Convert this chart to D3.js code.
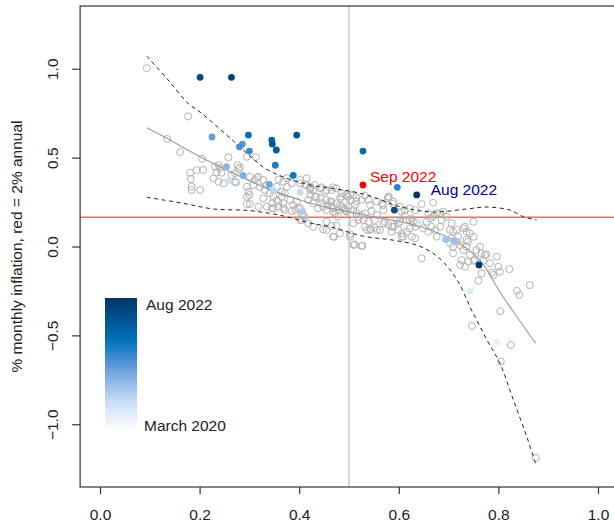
<!DOCTYPE html>
<html>
<head>
<meta charset="utf-8">
<script src="https://cdn.jsdelivr.net/npm/d3@7"></script>
<style>
  body { margin: 0; background: #fff; }
  text { font-family: "Liberation Sans", Arial, sans-serif; }
</style>
</head>
<body>
<div id="chart"></div>
<script>
// ---- data ----
const xTicks = [0, 0.2, 0.4, 0.6, 0.8, 1.0];
const yTicks = [-1.0, -0.5, 0.0, 0.5, 1.0];
const redLevel = 0.165;   // 2% annual in monthly terms
const splitX = 0.5;

// older months (hollow grey circles)
const pastPoints = [
  [.094,1.003],[.177,.732],[.135,.605],[.161,.531],[.205,.494],[.258,.502],[.181,.415],[.194,.429],[.182,.380],[.207,.430],
  [.184,.318],[.201,.318],[.184,.337],[.231,.449],[.241,.440],[.234,.415],[.244,.415],[.228,.384],[.238,.364],[.248,.355],
  [.238,.458],[.264,.402],[.271,.412],[.278,.436],[.276,.458],[.271,.364],[.295,.505],[.313,.503],[.301,.393],[.311,.374],
  [.308,.346],[.295,.336],[.298,.308],[.295,.280],[.300,.290],[.295,.239],[.301,.239],[.318,.224],[.335,.224],[.348,.215],
  [.328,.374],[.335,.346],[.331,.318],[.341,.299],[.328,.271],[.318,.393],[.321,.333],[.355,.336],[.365,.308],[.371,.299],
  [.375,.336],[.385,.355],[.348,.280],[.358,.252],[.368,.243],[.371,.205],[.382,.262],[.388,.233],[.392,.205],[.402,.215],
  [.402,.355],[.415,.384],[.405,.177],[.281,.445],[.273,.361],[.315,.387],
  [.358,.377],[.368,.364],[.375,.384],[.412,.346],[.432,.346],[.422,.327],[.445,.333],[.455,.318],[.468,.333],[.485,.299],
  [.502,.290],[.515,.277],[.532,.286],[.580,.280],
  [.402,.374],[.415,.346],[.422,.318],[.442,.327],[.452,.308],[.465,.318],[.475,.327],[.485,.280],[.495,.290],[.502,.262],
  [.509,.290],[.515,.252],[.525,.262],[.539,.262],[.542,.233],[.556,.252],[.569,.233],[.579,.280],[.589,.239],[.602,.224],
  [.612,.205],[.622,.215],[.633,.205],[.646,.239],[.669,.246],[.659,.187],[.669,.168],[.683,.187],[.686,.149],[.696,.168],
  [.706,.130],[.716,.093],[.730,.102],[.743,.074],[.736,.037],[.750,.055],[.763,-.001],[.773,-.048],[.797,-.057],[.750,.139],
  [.673,.093],[.636,.130],[.622,.149],[.602,.139],[.586,.111],[.569,.130],[.556,.093],[.542,.093],[.532,.111],[.519,.149],
  [.509,.130],[.502,.055],[.509,.008],[.525,.003],[.468,.055],[.455,.093],[.428,.111],[.418,.130],[.410,.168],[.402,.149],
  [.605,.196],[.612,.173],[.616,.149],[.626,.159],[.629,.139],[.633,.111],[.622,.102],[.616,.083],[.606,.074],[.609,.055],
  [.626,.055],[.633,.046],[.649,.102],[.656,.139],[.663,.159],[.666,.111],[.659,.083],[.676,.055],[.683,.111],[.676,.187],
  [.689,.196],[.703,.093],[.709,.083],[.706,.046],[.703,.018],[.709,-.001],[.716,.027],[.719,.055],[.723,.008],[.730,-.020],
  [.736,-.001],[.739,.027],[.736,.083],[.733,.111],[.723,-.104],[.733,-.114],[.726,-.076],[.709,-.038],[.646,-.066],[.756,-.020],
  [.743,-.048],[.753,-.076],[.766,-.038],[.776,-.044],[.783,-.094],[.800,-.114],[.803,-.142],[.790,-.160],[.766,-.151],
  [.760,-.192],[.787,-.147],[.822,-.127],[.863,-.217],[.837,-.249],[.842,-.273],[.804,-.364],[.747,-.447],[.825,-.554],
  [.805,-.646],[.875,-1.189],[.740,-.085],[.750,-.080],[.770,-.080],
  [.418,.262],[.428,.243],[.432,.280],[.442,.271],[.438,.215],[.448,.224],[.455,.205],[.458,.233],[.465,.252],[.468,.215],
  [.472,.187],[.479,.205],[.482,.233],[.489,.215],[.495,.196],[.499,.224],[.502,.177],[.509,.205],[.512,.233],[.515,.187],
  [.519,.168],[.525,.177],[.529,.149],[.455,.139],[.475,.117],[.470,.055],[.502,.069],[.511,.012],[.527,.004],[.536,.093],
  [.544,.098],[.552,.106],[.562,.093],[.539,.139],[.552,.149],[.532,.187],[.545,.200],[.556,.177],[.569,.205],[.572,.139],
  [.579,.121],[.589,.111],[.586,.083],[.599,.130],[.599,.093],[.606,.055],[.566,.243],[.578,.271],[.589,.252],[.596,.149],
  [.345,.215],[.346,.243],[.355,.262],[.365,.280],[.358,.224],[.368,.215],[.385,.200],[.398,.215],[.395,.252],[.408,.177],
  [.405,.149],[.448,.097],[.465,.115],[.482,.074],
  [.422,.336],[.428,.318],[.422,.290],[.435,.280],[.445,.243],[.455,.262],[.462,.252],[.465,.227],[.475,.243],[.482,.271],
  [.485,.224],[.492,.205],[.468,.196],[.478,.168],[.498,.280]
];

// March 2020 .. Aug 2022 (month 0 .. 29), filled and coloured by month
const recentX = [.797,.743,.641,.257,.402,.348,.407,.694,.711,.254,.287,.340,.225,.286,.280,
                 .300,.597,.352,.388,.298,.528,.345,.354,.346,.395,.591,.201,.264,.761,.636];
const recentY = [-.537,-.250,.134,.368,.305,.314,.198,.040,.033,.449,.400,.350,.616,.576,.561,
                 .537,.333,.457,.400,.627,.537,.599,.543,.576,.627,.205,.952,.952,-.104,.290];
const recentMonth = d3.range(recentX.length);

// the newest month, shown in red
const sepX = 0.528;
const sepY = 0.346;

// loess fit and its dashed band
const fitX = [.094,.134,.201,.268,.335,.402,.462,.502,.562,.612,.663,.716,.763,.803,.837,.875];
const fitY = [.668,.609,.505,.412,.327,.262,.215,.194,.160,.135,.093,.027,-.076,-.256,-.395,-.544];
const upperX = [.094,.134,.177,.201,.268,.308,.331,.368,.422,.468,.536,.602,.669,.736,.777,.823,.850,.877];
const upperY = [1.071,.946,.805,.756,.593,.492,.441,.391,.346,.327,.290,.224,.194,.211,.222,.205,.168,.149];
const lowerX = [.094,.167,.228,.301,.368,.422,.462,.529,.590,.640,.680,.716,.746,.777,.803,.830,.857,.875];
const lowerY = [.277,.243,.211,.202,.172,.132,.111,.058,.035,.004,-.062,-.183,-.357,-.526,-.657,-.863,-1.070,-1.223];

// ---- layout ----
const width = 614;
const height = 524;
const plot = { left: 80.1, right: 617.9, top: 6, bottom: 487 };
const font = "15.5px";

const x = d3.scaleLinear().domain([-0.04, 1.04]).range([plot.left, plot.right]);
const y = d3.scaleLinear().domain([-1.353, 1.353]).range([plot.bottom, plot.top]);

// white -> navy ramp, month -3 is pure white so March 2020 is just tinted
const rampStops = [0, 0.23, 0.38, 0.53, 0.68, 1];
const rampColors = ["#ffffff", "#c4daf4", "#8ab4e6", "#4a8ed4", "#0072bc", "#023466"];
const monthDomain = [-3, 29];
const color = d3.scaleLinear()
    .domain(rampStops.map(t => monthDomain[0] + t * (monthDomain[1] - monthDomain[0])))
    .range(rampColors);

const svg = d3.select("#chart")
    .append("svg")
    .attr("width", width)
    .attr("height", height);

svg.append("rect").attr("width", width).attr("height", height).attr("fill", "#fff");

// reference lines
svg.append("line")
    .attr("x1", x(splitX)).attr("x2", x(splitX))
    .attr("y1", plot.top).attr("y2", plot.bottom)
    .attr("stroke", "#c8c8c8")
    .attr("stroke-width", 1.4);

svg.append("line")
    .attr("x1", plot.left).attr("x2", plot.right)
    .attr("y1", y(redLevel)).attr("y2", y(redLevel))
    .attr("stroke", "#ff0000")
    .attr("stroke-opacity", 0.6)
    .attr("stroke-width", 1.5);

// hollow circles
svg.append("g")
    .selectAll("circle")
    .data(pastPoints)
    .enter()
    .append("circle")
    .attr("cx", d => x(d[0]))
    .attr("cy", d => y(d[1]))
    .attr("r", 3.5)
    .attr("fill", "none")
    .attr("stroke", "#b3b3b3")
    .attr("stroke-width", 1);

// fitted curve and band
const line = d3.line()
    .x(d => x(d[0]))
    .y(d => y(d[1]))
    .curve(d3.curveCatmullRom);

svg.append("path")
    .attr("d", line(d3.zip(fitX, fitY)))
    .attr("fill", "none")
    .attr("stroke", "#9a9a9a")
    .attr("stroke-width", 1.1);

[[upperX, upperY], [lowerX, lowerY]].forEach(([xs, ys]) => {
    svg.append("path")
        .attr("d", line(d3.zip(xs, ys)))
        .attr("fill", "none")
        .attr("stroke", "#222")
        .attr("stroke-width", 1)
        .attr("stroke-dasharray", "4,3.5");
});

// coloured recent months
svg.append("g")
    .selectAll("circle")
    .data(recentMonth)
    .enter()
    .append("circle")
    .attr("cx", i => x(recentX[i]))
    .attr("cy", i => y(recentY[i]))
    .attr("r", 3.4)
    .attr("fill", i => color(i));

svg.append("circle")
    .attr("cx", x(sepX))
    .attr("cy", y(sepY))
    .attr("r", 3.4)
    .attr("fill", "#ff0000");

// point labels
svg.append("text")
    .attr("x", x(sepX) + 7)
    .attr("y", y(sepY) - 3)
    .style("font-size", font)
    .attr("fill", "#ff0000")
    .text("Sep 2022");

const last = recentMonth[recentMonth.length - 1];
svg.append("text")
    .attr("x", x(recentX[last]) + 14)
    .attr("y", y(recentY[last]))
    .style("font-size", font)
    .attr("fill", "#00008b")
    .text("Aug 2022");

// box
svg.append("rect")
    .attr("x", plot.left).attr("y", plot.top)
    .attr("width", plot.right - plot.left)
    .attr("height", plot.bottom - plot.top)
    .attr("fill", "none")
    .attr("stroke", "#333")
    .attr("stroke-width", 1.2);

// axes
const xAxis = svg.append("g")
    .attr("transform", `translate(0,${plot.bottom})`)
    .call(d3.axisBottom(x).tickValues(xTicks).tickFormat(d3.format(".1f")).tickSize(7));
xAxis.select(".domain").remove();
xAxis.selectAll("line").attr("stroke", "#333").attr("stroke-width", 1.2);
xAxis.selectAll("text")
    .attr("y", 22)
    .attr("dy", "0.71em")
    .attr("fill", "#222")
    .style("font-size", font)
    .style("font-family", "'Liberation Sans', Arial, sans-serif");

const yAxis = svg.append("g")
    .attr("transform", `translate(${plot.left},0)`)
    .call(d3.axisLeft(y).tickValues(yTicks).tickFormat(d3.format(".1f")).tickSize(8));
yAxis.select(".domain").remove();
yAxis.selectAll("line").attr("stroke", "#333").attr("stroke-width", 1.2);
yAxis.selectAll("text")
    .attr("x", 0)
    .attr("dy", 0)
    .attr("text-anchor", "middle")
    .attr("transform", "translate(-22,0) rotate(-90)")
    .attr("fill", "#222")
    .style("font-size", font)
    .style("font-family", "'Liberation Sans', Arial, sans-serif");

svg.append("text")
    .attr("transform", `translate(22,${(plot.top + plot.bottom) / 2}) rotate(-90)`)
    .attr("text-anchor", "middle")
    .style("font-size", font)
    .attr("fill", "#222")
    .text("% monthly inflation, red = 2% annual");

// colour legend
const defs = svg.append("defs");
const grad = defs.append("linearGradient")
    .attr("id", "monthRamp")
    .attr("x1", 0).attr("y1", 1)
    .attr("x2", 0).attr("y2", 0);
rampStops.forEach((t, k) => {
    grad.append("stop").attr("offset", t).attr("stop-color", rampColors[k]);
});

svg.append("rect")
    .attr("x", 105).attr("y", 298)
    .attr("width", 32).attr("height", 132)
    .attr("fill", "url(#monthRamp)");

svg.append("text")
    .attr("x", 146).attr("y", 309.5)
    .style("font-size", font)
    .attr("fill", "#222")
    .text("Aug 2022");

svg.append("text")
    .attr("x", 144).attr("y", 430.5)
    .style("font-size", font)
    .attr("fill", "#222")
    .text("March 2020");
</script>
</body>
</html>
